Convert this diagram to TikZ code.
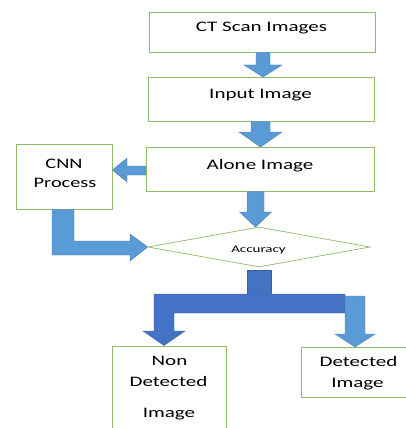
\documentclass[tikz,border=0pt]{standalone}
\usepackage{fontspec}
\setmainfont{Carlito}
\newfontfamily\wideA[FakeStretch=1.45]{Carlito}
\newfontfamily\wideC[FakeStretch=1.4]{Carlito}
\newfontfamily\wideD[FakeStretch=1.5]{Carlito}
\usetikzlibrary{shapes.geometric,calc}
\definecolor{boxgreen}{HTML}{8FBC6A}
\definecolor{lightblue}{HTML}{5B9BD5}
\definecolor{darkblue}{HTML}{4472C4}
\definecolor{edgeblue}{HTML}{4A7EBB}
\tikzset{
  stepbox/.style={draw=boxgreen, line width=0.9pt, fill=white, inner sep=0pt},
  decbox/.style={draw=boxgreen, line width=0.7pt, fill=white, shape=diamond, inner sep=0pt},
  lbarrow/.style={fill=lightblue, draw=edgeblue, line width=0.4pt},
  dbarrow/.style={fill=darkblue, draw=darkblue!85!black, line width=0.4pt},
  txt/.style={inner sep=0pt, anchor=base, font=\wideA\fontsize{14.5}{17}\selectfont},
  cnntxt/.style={inner sep=0pt, anchor=base, font=\wideC\fontsize{14.5}{17}\selectfont},
  acctxt/.style={inner sep=0pt, anchor=base, font=\wideD\fontsize{10}{12}\selectfont}
}
% vertical block arrow: #1 style, #2 x, #3 y start, #4 y tip, #5 half shaft, #6 half head, #7 head length (all pt, y down)
\newcommand{\vblock}[7]{%
  \draw[#1] (#2-#5,#3) -- (#2+#5,#3) -- (#2+#5,#4-#7) -- (#2+#6,#4-#7) -- (#2,#4) -- (#2-#6,#4-#7) -- (#2-#5,#4-#7) -- cycle;}
\begin{document}
\begin{tikzpicture}[x=1pt,y=-1pt]
\useasboundingbox (0,0) rectangle (406,428);
\clip (0,0) rectangle (406,428);
% boxes
\node[stepbox, minimum width=226, minimum height=40] (ct) at (262,32) {};
\node[txt] (ctt) at (261.5,32) {CT Scan Images};
\node[stepbox, minimum width=226, minimum height=44] (input) at (261,99) {};
\node[txt] (inputt) at (260.5,98) {Input Image};
\node[stepbox, minimum width=228, minimum height=44] (alone) at (260,169) {};
\node[txt] (alonet) at (260,169) {Alone Image};
\node[stepbox, minimum width=96, minimum height=65] (cnn) at (64,176.5) {};
\node[cnntxt] (cnnt1) at (64,168) {CNN};
\node[cnntxt] (cnnt2) at (65,187) {Process};
\node[decbox, minimum width=222, minimum height=40] (acc) at (259,247) {};
\node[acctxt] (acct) at (258.5,252) {Accuracy};
\node[stepbox, minimum width=114, minimum height=100] (nond) at (169,396) {};
\node[txt] (nondt1) at (169.5,365) {Non};
\node[txt] (nondt2) at (168.5,386) {Detected};
\node[txt] (nondt3) at (169,417) {Image};
\node[stepbox, minimum width=119, minimum height=50] (det) at (360.5,372) {};
\node[txt] (dett1) at (358.5,366) {Detected};
\node[txt] (dett2) at (357.5,387) {Image};
% arrows
\vblock{lbarrow}{263}{52.5}{77}{7}{19}{12}
\vblock{lbarrow}{260.5}{121.5}{147}{9.5}{21.5}{15}
\vblock{lbarrow}{255.5}{191.5}{227}{8.5}{16}{15}
% left arrow alone -> cnn
\draw[lbarrow] (alone.west|-0,166) -- (127,166) -- (127,158) -- (cnn.east|-0,170) -- (127,182) -- (127,175) -- (alone.west|-0,175) -- cycle;
% bent arrow cnn -> acc
\draw[lbarrow] (52,209.5) -- (74,209.5) -- (74,241) -- (130,241) -- (130,234) -- (acc.west) -- (130,261) -- (130,255) -- (52,255) -- cycle;
% split
\draw[dbarrow] (247,270) rectangle (271,295);
\draw[dbarrow] (154,294) -- (345,294) -- (345,313) -- (174,313) -- (174,331) -- (185,331) -- (164,345.5) -- (143,331) -- (154,331) -- cycle;
\vblock{lbarrow}{355}{296}{347}{10}{20}{13}
\end{tikzpicture}
\end{document}
